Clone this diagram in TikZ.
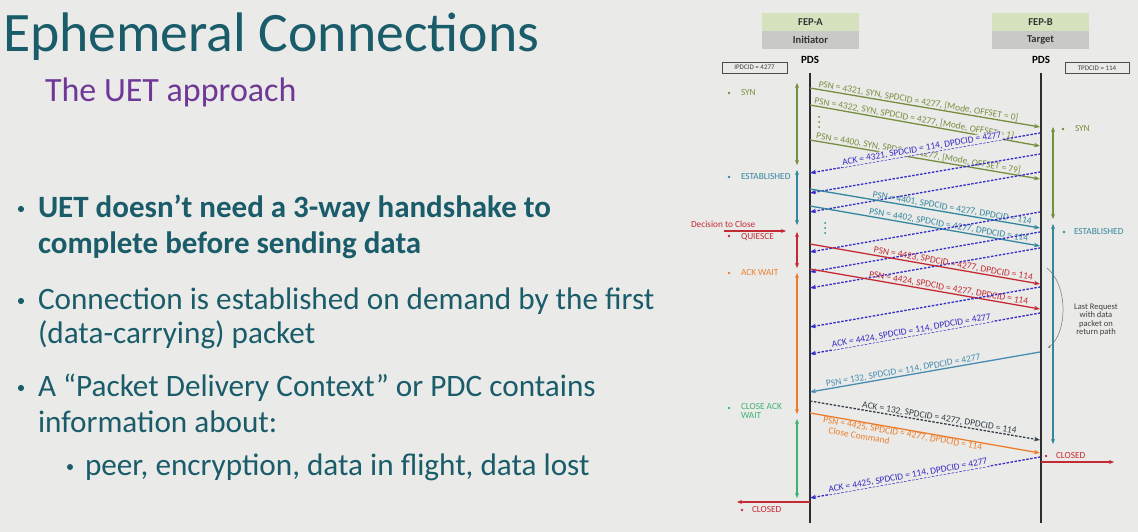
\documentclass[tikz,border=0pt]{standalone}
\usepackage{fontspec}
\setmainfont{Carlito}
\usetikzlibrary{arrows.meta}
\definecolor{bg}{RGB}{234,235,232}
\definecolor{txt}{RGB}{26,92,106}
\definecolor{purp}{RGB}{112,56,150}
\definecolor{olv}{RGB}{118,142,64}
\definecolor{tl}{RGB}{52,134,158}
\definecolor{tlb}{RGB}{72,140,178}
\definecolor{cred}{RGB}{196,42,52}
\definecolor{orng}{RGB}{236,124,44}
\definecolor{grn}{RGB}{62,178,112}
\definecolor{ablue}{RGB}{52,42,200}
\definecolor{dgrey}{RGB}{52,62,72}
\definecolor{fepg}{RGB}{214,226,190}
\definecolor{fepgr}{RGB}{201,202,200}
\definecolor{life}{RGB}{45,45,48}
\begin{document}
\begin{tikzpicture}[x=1pt,y=-1pt,
  every node/.style={inner sep=0pt, outer sep=0pt},
  lbl/.style={sloped, anchor=south west, inner sep=1pt, font=\fontsize{9.4}{10}\selectfont},
  lblb/.style={sloped, anchor=north west, inner sep=1pt, font=\fontsize{9.4}{10}\selectfont, align=left},
  ackl/.style={lbl, fill=bg, text=ablue},
  msg/.style={line width=1.3pt, -{Stealth[length=6pt,width=4.5pt]}},
  ack/.style={line width=1.3pt, dash pattern=on 2.5pt off 1.5pt, {Stealth[length=6pt,width=4.5pt]}-, draw=ablue},
  dbl/.style={line width=1.4pt, {Stealth[length=5pt,width=4pt]}-{Stealth[length=5pt,width=4pt]}},
  st/.style={font=\fontsize{9.3}{9.5}\selectfont, anchor=west},
  body/.style={anchor=base west, text=txt, font=\fontsize{31.2}{35}\selectfont},
  hdr/.style={font=\fontsize{10.5}{11}\selectfont\bfseries, text=black!80, minimum width=97pt, minimum height=18pt},
  idbox/.style={draw=black!70, line width=0.6pt, font=\fontsize{7}{8}\selectfont, minimum height=11pt, text=black!75},
]
\useasboundingbox (0,0) rectangle (1138,532);
\fill[bg] (0,0) rectangle (1138,532);

% ---------------- left text ----------------
\node[anchor=base west, text=txt, font=\fontsize{55.7}{60}\selectfont] (title) at (3,52) {Ephemeral Connections};
\node[anchor=base west, text=purp, font=\fontsize{34}{38}\selectfont] (subtitle) at (45,102) {The UET approach};
\fill[txt] (21,209) circle (3.1);
\node[body, font=\fontsize{31}{35}\selectfont\bfseries] (b1a) at (38,217) {UET doesn’t need a 3-way handshake to};
\node[body, font=\fontsize{31}{35}\selectfont\bfseries] (b1b) at (38,253) {complete before sending data};
\fill[txt] (21,301) circle (3.1);
\node[body] (b2a) at (38,309) {Connection is established on demand by the first};
\node[body] (b2b) at (38,343) {(data-carrying) packet};
\fill[txt] (21,388) circle (3.1);
\node[body] (b3a) at (38,396) {A “Packet Delivery Context” or PDC contains};
\node[body] (b3b) at (38,432) {information about:};
\fill[txt] (70,467) circle (3);
\node[body] (b4) at (85,475) {peer, encryption, data in flight, data lost};

% ---------------- headers ----------------
\node[hdr, fill=fepg] (fepa) at (810.5,22) {FEP-A};
\node[hdr, fill=fepgr] (inia) at (810.5,40) {Initiator};
\node[hdr, fill=fepg] (fepb) at (1040.5,22) {FEP-B};
\node[hdr, fill=fepgr] (tgtb) at (1040.5,40) {Target};
\node[font=\fontsize{11}{12}\selectfont\bfseries] (pdsa) at (810,60) {PDS};
\node[font=\fontsize{11}{12}\selectfont\bfseries] (pdsb) at (1041,60) {PDS};
\node[idbox, minimum width=65pt] (ipd) at (754.5,67.5) {IPDCID = 4277};
\node[idbox, minimum width=64pt] (tpd) at (1097,68) {TPDCID = 114};

% lifelines
\coordinate (lat) at (810,73); \coordinate (lab) at (810,523);
\coordinate (lbt) at (1041,73); \coordinate (lbb) at (1041,523);
\draw[life, line width=1.6pt] (lat) -- (lab);
\draw[life, line width=1.6pt] (lbt) -- (lbb);

% ---------------- SYN messages ----------------
\coordinate (s1a) at (810,88);  \coordinate (s1b) at (1040,127);
\coordinate (s2a) at (810,105); \coordinate (s2b) at (1040,146);
\coordinate (s3a) at (810,140); \coordinate (s3b) at (1040,179);
\draw[msg, olv] (s1a) -- node[lbl, pos=0.03, text=olv] (l1) {PSN = 4321, SYN, SPDCID = 4277, [Mode, OFFSET = 0]} (s1b);
\draw[msg, olv] (s2a) -- node[lbl, pos=0.012, text=olv] (l2) {PSN = 4322, SYN, SPDCID = 4277, [Mode, OFFSET = 1]} (s2b);
\foreach \yy in {117,122,127} \fill[olv] (819,\yy) circle (1);
\draw[msg, olv] (s3a) -- node[lbl, pos=0.02, text=olv] (l3) {PSN = 4400, SYN, SPDCID = 4277, [Mode, OFFSET = 79]} (s3b);

% ---------------- ACK dashed lines ----------------
\coordinate (k1a) at (810,173); \coordinate (k1b) at (1040,133);
\coordinate (k2a) at (810,193); \coordinate (k2b) at (1040,154);
\coordinate (k3a) at (810,212); \coordinate (k3b) at (1040,172);
\coordinate (k4a) at (810,252); \coordinate (k4b) at (1040,212);
\coordinate (k5a) at (810,272); \coordinate (k5b) at (1040,232);
\coordinate (k6a) at (810,288); \coordinate (k6b) at (1040,248);
\coordinate (k7a) at (810,327); \coordinate (k7b) at (1040,287);
\coordinate (k8a) at (810,354); \coordinate (k8b) at (1040,313);
\coordinate (k9a) at (810,498); \coordinate (k9b) at (1040,457);
\draw[ack] (k1a) -- node[ackl, pos=0.14] (lk1) {ACK = 4321, SPDCID = 114, DPDCID = 4277} (k1b);
\draw[ack] (k2a) -- (k2b);
\draw[ack] (k3a) -- (k3b);

% ---------------- data messages ----------------
\coordinate (d1a) at (810,189); \coordinate (d1b) at (1040,228);
\coordinate (d2a) at (810,206); \coordinate (d2b) at (1040,246);
\draw[msg, tl] (d1a) -- node[lbl, pos=0.265, text=tl] (l4) {PSN = 4401, SPDCID = 4277, DPDCID = 114} (d1b);
\draw[msg, tl] (d2a) -- node[lbl, pos=0.25, text=tl] (l5) {PSN = 4402, SPDCID = 4277, DPDCID = 114} (d2b);
\foreach \yy in {223,228,233} \fill[tl] (825,\yy) circle (1);

\draw[ack] (k4a) -- (k4b);
\draw[ack] (k5a) -- (k5b);
\draw[ack] (k6a) -- (k6b);

\coordinate (r1a) at (810,244); \coordinate (r1b) at (1040,284);
\coordinate (r2a) at (810,269); \coordinate (r2b) at (1040,309);
\draw[msg, cred] (r1a) -- node[lbl, pos=0.27, text=cred] (l6) {PSN = 4423, SPDCID = 4277, DPDCID = 114} (r1b);
\draw[msg, cred] (r2a) -- node[lbl, pos=0.25, text=cred] (l7) {PSN = 4424, SPDCID = 4277, DPDCID = 114} (r2b);

\draw[ack] (k7a) -- (k7b);
\draw[ack] (k8a) -- node[ackl, pos=0.095] (lk8) {ACK = 4424, SPDCID = 114, DPDCID = 4277} (k8b);

% return data
\coordinate (p1a) at (810,392); \coordinate (p1b) at (1040,352);
\draw[line width=1.3pt, tlb, {Stealth[length=6pt,width=4.5pt]}-] (p1a) -- node[lbl, pos=0.07, text=tlb] (l8) {PSN = 132, SPDCID = 114, DPDCID = 4277} (p1b);
% ack 132
\coordinate (g1a) at (810,401); \coordinate (g1b) at (1040,440);
\draw[line width=1.3pt, dgrey, dash pattern=on 2.5pt off 1.5pt, -{Stealth[length=6pt,width=4.5pt]}] (g1a) -- node[lbl, pos=0.22, text=dgrey] (l9) {ACK = 132, SPDCID = 4277, DPDCID = 114} (g1b);
% close command
\coordinate (o1a) at (810,413); \coordinate (o1b) at (1040,453);
\draw[msg, orng] (o1a) -- node[lblb, pos=0.057, text=orng] (l10) {PSN = 4425, SPDCID = 4277, DPDCID = 114\\\hspace*{7pt}Close Command} (o1b);
\draw[ack] (k9a) -- node[ackl, pos=0.08] (lk9) {ACK = 4425, SPDCID = 114, DPDCID = 4277} (k9b);

% ---------------- left states ----------------
\coordinate (v1t) at (797,83);  \coordinate (v1b) at (797,165);
\coordinate (v2t) at (797,170); \coordinate (v2b) at (797,225);
\coordinate (v3t) at (797,232); \coordinate (v3b) at (797,268);
\coordinate (v4t) at (797,273); \coordinate (v4b) at (797,414);
\coordinate (v5t) at (797,419); \coordinate (v5b) at (797,498);
\draw[dbl, olv] (v1t) -- (v1b);
\draw[dbl, tl] (v2t) -- (v2b);
\draw[dbl, cred] (v3t) -- (v3b);
\draw[dbl, orng] (v4t) -- (v4b);
\draw[dbl, grn] (v5t) -- (v5b);

\fill[olv] (729,93) circle (1.3);
\node[st, text=olv] (sa1) at (741,93) {SYN};
\fill[tl] (729,177) circle (1.3);
\node[st, text=tl] (sa2) at (741,177) {ESTABLISHED};
\node[st, text=cred] (dtc) at (691,224) {Decision to Close};
\coordinate (dca) at (724,231); \coordinate (dcb) at (786,231);
\draw[cred, line width=1.3pt, -{Stealth[length=5pt,width=4pt]}] (dca) -- (dcb);
\fill[cred] (729,236) circle (1.3);
\node[st, text=cred] (sa3) at (741,237) {QUIESCE};
\fill[orng] (729,273) circle (1.3);
\node[st, text=orng] (sa4) at (741,273) {ACK WAIT};
\fill[grn] (729,408) circle (1.3);
\node[st, text=grn, align=left, anchor=north west, font=\fontsize{9.3}{9}\selectfont] (sa5) at (741,403) {CLOSE ACK\\WAIT};

\coordinate (cla) at (810,502); \coordinate (clb) at (737,502);
\draw[cred, line width=1.3pt, -{Stealth[length=5pt,width=4pt]}] (cla) -- (clb);
\fill[cred] (742,510) circle (1.3);
\node[st, text=cred] (sa6) at (752,510) {CLOSED};

% ---------------- right states ----------------
\coordinate (w1t) at (1053,127); \coordinate (w1b) at (1053,219);
\coordinate (w2t) at (1053,224); \coordinate (w2b) at (1053,444);
\draw[dbl, olv] (w1t) -- (w1b);
\draw[dbl, tl] (w2t) -- (w2b);
\fill[olv] (1063,129) circle (1.3);
\node[st, text=olv] (sb1) at (1075,129) {SYN};
\fill[tl] (1064,232) circle (1.3);
\node[st, text=tl] (sb2) at (1074,232) {ESTABLISHED};

\coordinate (lr1) at (1047,268); \coordinate (lr2) at (1048,348);
\draw[black!55, line width=0.5pt, -{Stealth[length=3pt,width=2.5pt]}] (lr1) .. controls (1068,285) and (1068,332) .. (lr2);
\node[font=\fontsize{8.5}{8.6}\selectfont, align=center, text=black!75] (lrt) at (1096,320) {Last Request\\with data\\packet on\\return path};

\coordinate (cra) at (1041,462); \coordinate (crb) at (1114,462);
\draw[cred, line width=1.3pt, -{Stealth[length=5pt,width=4pt]}] (cra) -- (crb);
\fill[cred] (1046,456) circle (1.3);
\node[st, text=cred] (sb3) at (1056,456) {CLOSED};
\end{tikzpicture}
\end{document}
